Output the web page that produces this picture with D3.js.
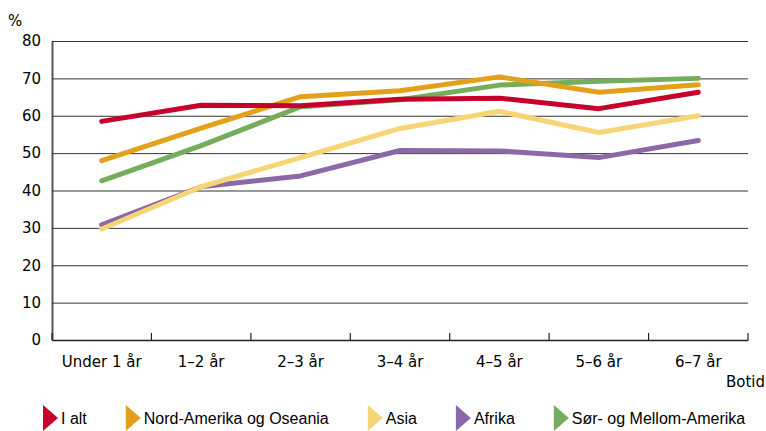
<!DOCTYPE html>
<html>
<head>
<meta charset="utf-8">
<script src="https://cdn.jsdelivr.net/npm/d3@7"></script>
<style>
  body { margin: 0; background: #fff; }
  .axis text { font-family: "DejaVu Sans", Verdana, sans-serif; font-size: 15px; fill: #000; }
  .legend text { font-family: "Liberation Sans", Arial, sans-serif; font-size: 16px; fill: #000; }
</style>
</head>
<body>
<div class="chart"></div>
<script>
var width = 766;
var height = 431;

// data
var categories = ["Under 1 år", "1–2 år", "2–3 år", "3–4 år", "4–5 år", "5–6 år", "6–7 år"];
var seriesNames = ["I alt", "Nord-Amerika og Oseania", "Asia", "Afrika", "Sør- og Mellom-Amerika"];
var iAlt      = [58.5, 62.8, 62.7, 64.4, 64.7, 61.9, 66.3];
var nordAm    = [48.0, 56.7, 65.1, 66.7, 70.4, 66.3, 68.3];
var asia      = [29.7, 41.0, 48.8, 56.6, 61.2, 55.5, 60.0];
var afrika    = [30.8, 41.0, 43.9, 50.7, 50.6, 48.8, 53.4];
var sorMellom = [42.6, 52.0, 62.4, 64.3, 68.2, 69.2, 70.0];
var yTicks = [0, 10, 20, 30, 40, 50, 60, 70, 80];
var colors = ["#c6002d", "#e3a11b", "#f5d574", "#8b69a7", "#74ad5b"];

var seriesValues = [iAlt, nordAm, asia, afrika, sorMellom];

var margin = { "top": 41, "bottom": 91, "left": 52, "right": 18 };

var svg = d3.select(".chart")
            .append("svg")
            .attr("width", width)
            .attr("height", height);

var plot = svg.append("g")
              .attr("transform", "translate(" + margin.left + "," + margin.top + ")");

var plotW = width - margin.left - margin.right;
var plotH = height - margin.top - margin.bottom;

var scaleX = d3.scaleBand().domain(categories).range([0, plotW]);
var scaleY = d3.scaleLinear().domain([0, 80]).range([plotH, 0]);

// horizontal gridlines + y labels
var yAxis = d3.axisLeft(scaleY)
              .tickValues(yTicks)
              .tickSizeInner(-plotW)
              .tickSizeOuter(0)
              .tickPadding(11)
              .tickFormat(d3.format("d"));

var gy = plot.append("g")
             .attr("class", "axis")
             .call(yAxis);
gy.select(".domain").attr("stroke", "#555").attr("stroke-width", 2);
gy.selectAll(".tick line").attr("stroke", "#333").attr("stroke-width", 1);

// x axis, ticks pointing up
var xAxis = d3.axisBottom(scaleX)
              .tickSize(0)
              .tickPadding(16);

var gx = plot.append("g")
             .attr("class", "axis")
             .attr("transform", "translate(0," + plotH + ")")
             .call(xAxis);
gx.select(".domain").attr("stroke", "#222").attr("stroke-width", 1.5);

var bounds = categories.map(function(c) { return scaleX(c); }).concat([plotW]);
gx.selectAll(".edge")
  .data(bounds)
  .enter()
  .append("line")
  .attr("x1", function(d) { return d; })
  .attr("x2", function(d) { return d; })
  .attr("y1", 0)
  .attr("y2", -7)
  .attr("stroke", "#222")
  .attr("stroke-width", 1.2);

// axis labels
svg.append("text")
   .attr("class", "axis")
   .attr("x", 8)
   .attr("y", 26)
   .style("font-family", "DejaVu Sans, Verdana, sans-serif")
   .style("font-size", "15px")
   .text("%");

svg.append("text")
   .attr("x", 765)
   .attr("y", 387)
   .attr("text-anchor", "end")
   .style("font-family", "DejaVu Sans, Verdana, sans-serif")
   .style("font-size", "15px")
   .text("Botid");

// lines, drawn last series first so "I alt" is on top
var line = d3.line()
             .x(function(d, i) { return scaleX(categories[i]) + scaleX.bandwidth() / 2; })
             .y(function(d) { return scaleY(d); });

var order = d3.range(seriesValues.length).reverse();
plot.selectAll(".series")
    .data(order)
    .enter()
    .append("path")
    .attr("class", "series")
    .attr("d", function(i) { return line(seriesValues[i]); })
    .attr("fill", "none")
    .attr("stroke", function(i) { return colors[i]; })
    .attr("stroke-width", 5)
    .attr("stroke-linejoin", "round")
    .attr("stroke-linecap", "round");

// legend
var legend = svg.append("g").attr("class", "legend");
var lx = 43;
seriesNames.forEach(function(name, i) {
  legend.append("path")
        .attr("d", "M" + lx + ",405L" + (lx + 15) + ",418L" + lx + ",431Z")
        .attr("fill", colors[i]);
  var t = legend.append("text")
                .attr("x", lx + 18)
                .attr("y", 424)
                .text(name);
  lx = lx + 18 + t.node().getComputedTextLength() + 39;
});
</script>
</body>
</html>
